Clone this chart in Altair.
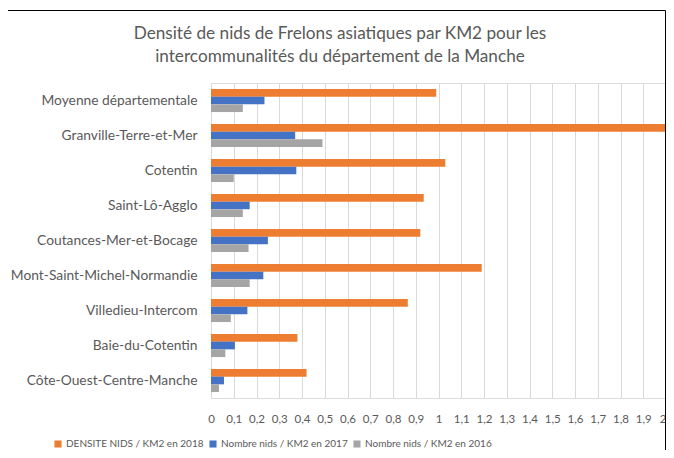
import altair as alt
import pandas as pd

categories = [
    "Moyenne départementale",
    "Granville-Terre-et-Mer",
    "Cotentin",
    "Saint-Lô-Agglo",
    "Coutances-Mer-et-Bocage",
    "Mont-Saint-Michel-Normandie",
    "Villedieu-Intercom",
    "Baie-du-Cotentin",
    "Côte-Ouest-Centre-Manche",
]
series = [
    "DENSITE NIDS / KM2 en 2018",
    "Nombre nids / KM2 en 2017",
    "Nombre nids / KM2 en 2016",
]
v2018 = [0.99, 2.00, 1.03, 0.935, 0.92, 1.19, 0.865, 0.38, 0.42]
v2017 = [0.235, 0.37, 0.375, 0.17, 0.25, 0.23, 0.16, 0.105, 0.057]
v2016 = [0.14, 0.49, 0.10, 0.14, 0.165, 0.17, 0.087, 0.063, 0.035]
colors = ["#ED7D31", "#4472C4", "#A5A5A5"]
ticks = [round(i * 0.1, 1) for i in range(21)]
title_lines = [
    "Densité de nids de Frelons asiatiques par KM2 pour les",
    "intercommunalités du département de la Manche",
]

rows = []
for s, vals in zip(series, [v2018, v2017, v2016]):
    for c, v in zip(categories, vals):
        rows.append({"cat": c, "serie": s, "val": v})
df = pd.DataFrame(rows)

font = "Lato"
txt = "#595959"

bars = alt.Chart(df).mark_bar().encode(
    x=alt.X("val:Q",
            scale=alt.Scale(domain=[0, 2], nice=False),
            axis=alt.Axis(values=ticks, format=".1~f",
                          labelExpr="replace(datum.label, '.', ',')",
                          labelAlign={"condition": {"test": "datum.value >= 2", "value": "right"},
                                      "value": "center"},
                          title=None, domain=False, ticks=False,
                          grid=True, gridColor="#D9D9D9",
                          labelFont=font, labelFontSize=11.5, labelColor=txt,
                          labelPadding=15)),
    y=alt.Y("cat:N", sort=categories,
            scale=alt.Scale(paddingInner=0.34, paddingOuter=0.17),
            axis=alt.Axis(title=None, domain=False, ticks=False,
                          labelFont=font, labelFontSize=13.8, labelColor=txt,
                          labelPadding=14, labelLimit=400)),
    yOffset=alt.YOffset("serie:N", sort=series,
                        scale=alt.Scale(paddingInner=0, paddingOuter=0)),
    color=alt.Color("serie:N", sort=series,
                    scale=alt.Scale(domain=series, range=colors),
                    legend=alt.Legend(title=None, orient="none",
                                      direction="horizontal",
                                      legendX=-158, legendY=356,
                                      symbolType="square", symbolSize=50,
                                      labelFont=font, labelFontSize=10,
                                      labelColor=txt, columnPadding=4,
                                      labelOffset=3, labelLimit=400)),
)

title_df = pd.DataFrame({"line": title_lines, "row": [0, 1]})
title = alt.Chart(title_df).mark_text(
    font=font, fontSize=17.2, color=txt, align="center", baseline="middle"
).encode(
    text="line:N",
    x=alt.value(129),
    y=alt.Y("row:Q", axis=None,
            scale=alt.Scale(domain=[0, 1], range=[-49.5, -26.5], nice=False, zero=False)),
)

frame = alt.Chart(pd.DataFrame({"a": [0]})).mark_rect(
    fillOpacity=0, stroke="#000000", strokeWidth=1, clip=False
).encode(
    x=alt.value(-207), x2=alt.value(454.5),
    y=alt.value(-72.5), y2=alt.value(400),
)

chart = alt.layer(bars, title, frame).resolve_scale(y="independent").properties(
    width=455,
    height=315,
    autosize=alt.AutoSizeParams(type="none"),
    padding={"left": 203, "top": 75, "right": 0, "bottom": 52},
).configure_view(stroke=None).configure(background="white")

chart.save("out.html", embed_options={"renderer": "svg", "actions": False})
